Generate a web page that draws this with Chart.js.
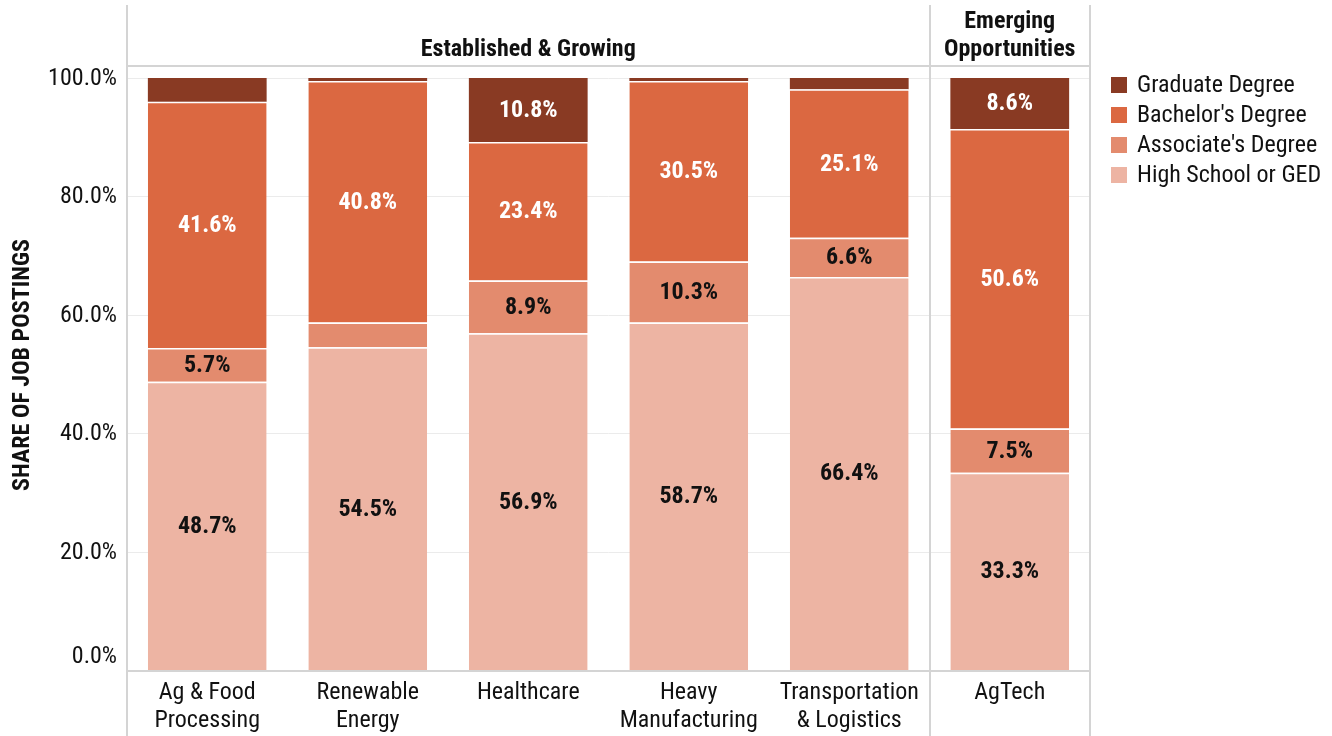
<!DOCTYPE html>
<html>
<head>
<meta charset="utf-8">
<script src="https://cdn.jsdelivr.net/npm/chart.js@4"></script>
<style>
html,body{margin:0;padding:0;background:#fff;}
canvas{display:block;}
</style>
</head>
<body>
<canvas id="c" width="1332" height="736"></canvas>
<script>
const categories = [["Ag & Food","Processing"],["Renewable","Energy"],["Healthcare"],["Heavy","Manufacturing"],["Transportation","& Logistics"],["AgTech"]];
const seriesNames = ["High School or GED","Associate's Degree","Bachelor's Degree","Graduate Degree"];
const highSchool = [48.7,54.5,56.9,58.7,66.4,33.3];
const associate  = [5.7,4.2,8.9,10.3,6.6,7.5];
const bachelor   = [41.6,40.8,23.4,30.5,25.1,50.6];
const graduate   = [4.0,0.5,10.8,0.5,1.9,8.6];
const seriesColors = ["#EDB4A3","#E38B6E","#DB6841","#893A23"];
const labelColors = ["#111","#111","#fff","#fff"];
const yTicks = [0,20,40,60,80,100];
const groupNames = [["Established & Growing"],["Emerging","Opportunities"]];
const groupStart = [0,5];
const groupEnd = [4,5];
const yTitle = "SHARE OF JOB POSTINGS";

const FAM = "'Roboto Condensed', Roboto, sans-serif";
const LINE = "#d4d4d4";

const framePlugin = {
  id: 'frame',
  beforeDatasetsDraw(chart) {
    const {ctx, chartArea: a, scales: {x, y}} = chart;
    ctx.save();
    ctx.strokeStyle = "#ebebeb";
    ctx.lineWidth = 1;
    yTicks.forEach(v => {
      const py = Math.round(y.getPixelForValue(v)) + 0.5;
      ctx.beginPath(); ctx.moveTo(a.left, py); ctx.lineTo(a.right, py); ctx.stroke();
    });
    ctx.fillStyle = "#111";
    ctx.font = "24px " + FAM;
    ctx.textAlign = "right";
    yTicks.forEach(v => {
      const py = y.getPixelForValue(v);
      ctx.textBaseline = v === 0 ? "bottom" : "middle";
      ctx.fillText(v.toFixed(1) + "%", a.left - 10, v === 0 ? py - 1 : py + 1);
    });
    ctx.restore();
  },
  afterDatasetsDraw(chart) {
    const {ctx, chartArea: a, scales: {x, y}} = chart;
    ctx.save();
    ctx.font = "bold 24px " + FAM;
    ctx.textAlign = "center";
    ctx.textBaseline = "middle";
    chart.data.datasets.forEach((ds, di) => {
      const meta = chart.getDatasetMeta(di);
      meta.data.forEach((bar, i) => {
        const v = ds.data[i];
        if (v < 5) return;
        const cy = (bar.y + bar.base) / 2;
        ctx.fillStyle = labelColors[di];
        ctx.fillText(v.toFixed(1) + "%", bar.x, cy + 1);
      });
    });
    const slot = (x.getPixelForValue(1) - x.getPixelForValue(0));
    ctx.strokeStyle = LINE;
    ctx.lineWidth = 2;
    const vlines = [a.left];
    groupEnd.forEach(e => vlines.push(x.getPixelForValue(e) + slot / 2));
    vlines.forEach(px => {
      ctx.beginPath(); ctx.moveTo(Math.round(px), 5); ctx.lineTo(Math.round(px), 736); ctx.stroke();
    });
    ctx.beginPath(); ctx.moveTo(a.left, 66); ctx.lineTo(a.right, 66); ctx.stroke();
    ctx.beginPath(); ctx.moveTo(a.left, a.bottom + 1); ctx.lineTo(a.right, a.bottom + 1); ctx.stroke();
    ctx.fillStyle = "#111";
    ctx.font = "bold 24px " + FAM;
    ctx.textAlign = "center";
    ctx.textBaseline = "middle";
    groupNames.forEach((g, gi) => {
      const cx = (x.getPixelForValue(groupStart[gi]) + x.getPixelForValue(groupEnd[gi])) / 2;
      const n = g.length;
      g.forEach((t, li) => {
        ctx.fillText(t, cx, 50 - (n - 1 - li) * 28);
      });
    });
    ctx.font = "24px " + FAM;
    categories.forEach((c, i) => {
      const cx = x.getPixelForValue(i);
      c.forEach((t, li) => ctx.fillText(t, cx, 693 + li * 28));
    });
    ctx.save();
    ctx.translate(23, (a.top + a.bottom) / 2 - 9);
    ctx.rotate(-Math.PI / 2);
    ctx.font = "bold 24px " + FAM;
    ctx.fillText(yTitle, 0, 0);
    ctx.restore();
    ctx.font = "24px " + FAM;
    ctx.textAlign = "left";
    for (let k = 0; k < seriesNames.length; k++) {
      const di = seriesNames.length - 1 - k;
      const ly = 85 + k * 30;
      ctx.fillStyle = seriesColors[di];
      ctx.fillRect(1111, ly - 8, 16, 16);
      ctx.fillStyle = "#111";
      ctx.fillText(seriesNames[di], 1137, ly + 1);
    }
    ctx.restore();
  }
};

const dataArrays = [highSchool, associate, bachelor, graduate];
new Chart(document.getElementById('c'), {
  type: 'bar',
  data: {
    labels: categories.map(c => c.join(' ')),
    datasets: dataArrays.map((d, i) => ({
      label: seriesNames[i],
      data: d,
      backgroundColor: seriesColors[i],
      borderColor: "#ffffff",
      borderWidth: i === 3 ? 0 : {top: 1.5, left: 0, right: 0, bottom: 0},
      borderSkipped: 'start',
      barPercentage: 0.74,
      categoryPercentage: 1
    }))
  },
  options: {
    responsive: false,
    animation: false,
    layout: { padding: { left: 127, right: 242, top: 78, bottom: 66 } },
    plugins: { legend: { display: false }, tooltip: { enabled: false } },
    scales: {
      x: { stacked: true, display: false, offset: true },
      y: { stacked: true, display: false, min: 0, max: 100 }
    }
  },
  plugins: [framePlugin]
});
</script>
</body>
</html>
